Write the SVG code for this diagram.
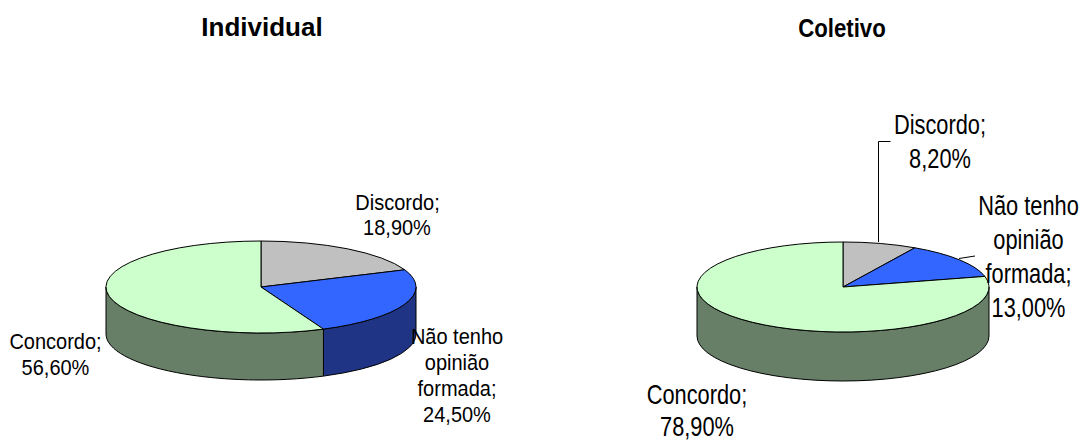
<svg xmlns="http://www.w3.org/2000/svg" width="1082" height="441" viewBox="0 0 1082 441">
<style>
.t{font-family:"Liberation Sans",Arial,sans-serif;font-weight:bold;fill:#000;text-anchor:middle}
.l{font-family:"Liberation Sans",Arial,sans-serif;font-size:20px;fill:#000;text-anchor:middle}
.r{font-family:"Liberation Sans",Arial,sans-serif;font-size:21.8px;fill:#000;text-anchor:middle}
.s{stroke:#000;stroke-width:1;stroke-linejoin:round}
.gray{fill:#C0C0C0}.blue{fill:#3366FF}.green{fill:#CCFFCC}
.dgreen{fill:#667F66}.dblue{fill:#1F3485}
.ld{fill:none;stroke:#000;stroke-width:1}
</style>
<rect width="1082" height="441" fill="#fff"/>
<g id="title-individual"><text class="t" x="262" y="36" font-size="26">Individual</text></g>
<g id="title-coletivo"><text class="t" font-size="22.2" transform="translate(842,36.5) scale(1,1.15)">Coletivo</text></g>

<g id="pie-individual">
<path class="s dblue" d="M416,287 A155,46 0 0,1 323.45,329.1 L323.45,376.1 A155,46 0 0,0 416,334 Z"/>
<path class="s dgreen" d="M323.45,329.1 A155,46 0 0,1 106,287 L106,334 A155,46 0 0,0 323.45,376.1 Z"/>
<path id="ind-discordo" class="s gray" d="M261,287 L261,241 A155,46 0 0,1 404.8,269.8 Z"/>
<path id="ind-naotenho" class="s blue" d="M261,287 L404.8,269.8 A155,46 0 0,1 323.45,329.1 Z"/>
<path id="ind-concordo" class="s green" d="M261,287 L323.45,329.1 A155,46 0 1,1 261,241 Z"/>
</g>

<g id="pie-coletivo">
<path class="s dgreen" d="M989,287 A146,45 0 0,1 697,287 L697,336 A146,45 0 0,0 989,336 Z"/>
<path id="col-discordo" class="s gray" d="M843,287 L843,242 A146,45 0 0,1 914.9,247.8 Z"/>
<path id="col-naotenho" class="s blue" d="M843,287 L914.9,247.8 A146,45 0 0,1 984.9,276.4 Z"/>
<path id="col-concordo" class="s green" d="M843,287 L984.9,276.4 A146,45 0 1,1 843,242 Z"/>
</g>

<g id="connectors">
<polyline class="ld" points="878.5,242 878.5,141.5 890.5,141.5"/>
<line class="ld" x1="959" y1="258.5" x2="975" y2="256"/>
</g>

<g id="label-ind-discordo">
<text class="l" transform="translate(397.5,209.5) scale(1,1.1)">Discordo;</text>
<text class="l" transform="translate(397,235) scale(1,1.1)">18,90%</text>
</g>
<g id="label-ind-naotenho">
<text class="l" transform="translate(457,343.5) scale(1,1.1)">Não tenho</text>
<text class="l" transform="translate(457,369.5) scale(1,1.1)">opinião</text>
<text class="l" transform="translate(457,395.5) scale(1,1.1)">formada;</text>
<text class="l" transform="translate(457,421.5) scale(1,1.1)">24,50%</text>
</g>
<g id="label-ind-concordo">
<text class="l" transform="translate(55.5,349.3) scale(1,1.1)">Concordo;</text>
<text class="l" transform="translate(55.5,374.5) scale(1,1.1)">56,60%</text>
</g>

<g id="label-col-discordo">
<text class="r" transform="translate(940,134) scale(1,1.25)">Discordo;</text>
<text class="r" transform="translate(940,168) scale(1,1.25)">8,20%</text>
</g>
<g id="label-col-naotenho">
<text class="r" transform="translate(1028.5,215) scale(1,1.25)">Não tenho</text>
<text class="r" transform="translate(1028.5,249) scale(1,1.25)">opinião</text>
<text class="r" transform="translate(1028.5,283) scale(1,1.25)">formada;</text>
<text class="r" transform="translate(1028.5,317) scale(1,1.25)">13,00%</text>
</g>
<g id="label-col-concordo">
<text class="r" transform="translate(697,403.5) scale(1,1.25)">Concordo;</text>
<text class="r" transform="translate(697,436) scale(1,1.25)">78,90%</text>
</g>
</svg>
